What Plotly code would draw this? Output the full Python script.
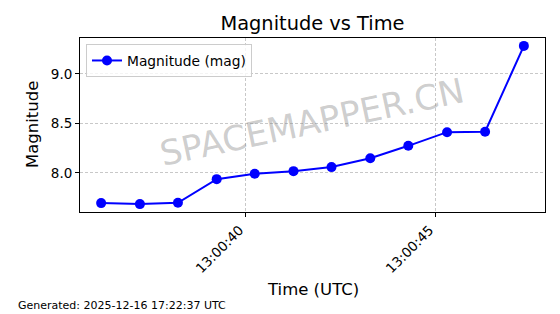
import plotly.graph_objects as go
import pandas as pd

# Data
times = ["2025-12-16 13:00:36.20", "2025-12-16 13:00:37.22", "2025-12-16 13:00:38.22",
         "2025-12-16 13:00:39.24", "2025-12-16 13:00:40.24", "2025-12-16 13:00:41.26",
         "2025-12-16 13:00:42.26", "2025-12-16 13:00:43.28", "2025-12-16 13:00:44.28",
         "2025-12-16 13:00:45.30", "2025-12-16 13:00:46.30", "2025-12-16 13:00:47.32"]
magnitudes = [7.694, 7.684, 7.697, 7.936, 7.99, 8.017, 8.058, 8.148, 8.273, 8.411, 8.415, 9.283]
tick_vals = ["2025-12-16 13:00:40", "2025-12-16 13:00:45"]
tick_text = ["13:00:40", "13:00:45"]
series_name = "Magnitude (mag)"

FONT = "DejaVu Sans"
W, H = 560, 314
L, R, T, B = 80, 545, 38, 212

t = pd.to_datetime(times)
span = t.max() - t.min()
xr = [t.min() - 0.05 * span, t.max() + 0.05 * span]
ymin, ymax = min(magnitudes), max(magnitudes)
yr = [ymin - 0.05 * (ymax - ymin), ymax + 0.05 * (ymax - ymin)]

GRID = dict(showgrid=True, gridcolor="#c8c8c8", griddash="3px,2px", gridwidth=1)

fig = go.Figure()
fig.add_trace(go.Scatter(
    x=t, y=magnitudes, mode="lines+markers", name=series_name,
    line=dict(color="#0000ff", width=2),
    marker=dict(color="#0000ff", size=10),
))

fig.update_layout(
    width=W, height=H,
    margin=dict(l=L, r=W - R, t=T, b=H - B),
    paper_bgcolor="white", plot_bgcolor="white",
    font=dict(family=FONT, color="black", size=13.5),
    title=dict(text="Magnitude vs Time", x=(L + R) / 2 / W, xanchor="center",
               y=1 - 23 / H, yanchor="middle", yref="container",
               font=dict(size=19.4, family=FONT, color="black")),
    showlegend=True,
    legend=dict(x=(86 - L) / (R - L), y=1 - (44 - T) / (B - T), xanchor="left", yanchor="top",
                bgcolor="rgba(255,255,255,0.8)", bordercolor="#cccccc", borderwidth=1,
                font=dict(size=13.8, family=FONT)),
    xaxis=dict(type="date", range=xr, tickmode="array", tickvals=tick_vals, ticktext=tick_text,
               tickangle=-45, ticks="outside", ticklen=4, tickcolor="black",
               ticklabelshift=-6,
               showline=True, linecolor="black", linewidth=1, mirror=True,
               zeroline=False, tickfont=dict(size=13.5), **GRID),
    yaxis=dict(range=yr, tickvals=[8.0, 8.5, 9.0], tickformat=".1f",
               ticks="outside", ticklen=4, tickcolor="black",
               showline=True, linecolor="black", linewidth=1, mirror=True,
               zeroline=False, tickfont=dict(size=13.5), **GRID),
)


def px2paper(px, py):
    return (px - L) / (R - L), 1 - (py - T) / (B - T)


annotations = []
for text, px, py, size, angle, color, anchor in [
    ("Time (UTC)", 312.5, 289, 16.5, 0, "black", "center"),
    ("Magnitude", 32, 125, 16.5, -90, "black", "center"),
    ("Generated: 2025-12-16 17:22:37 UTC", 16, 305, 11, 0, "black", "left"),
    ("SPACEMAPPER.CN", 312, 122, 34.5, -12, "rgba(128,128,128,0.4)", "center"),
]:
    x, y = px2paper(px, py)
    annotations.append(dict(text=text, x=x, y=y, xref="paper", yref="paper", showarrow=False,
                            textangle=angle, font=dict(size=size, family=FONT, color=color),
                            xanchor=anchor, yanchor="middle"))
fig.update_layout(annotations=annotations)

fig.write_html("out.html")
